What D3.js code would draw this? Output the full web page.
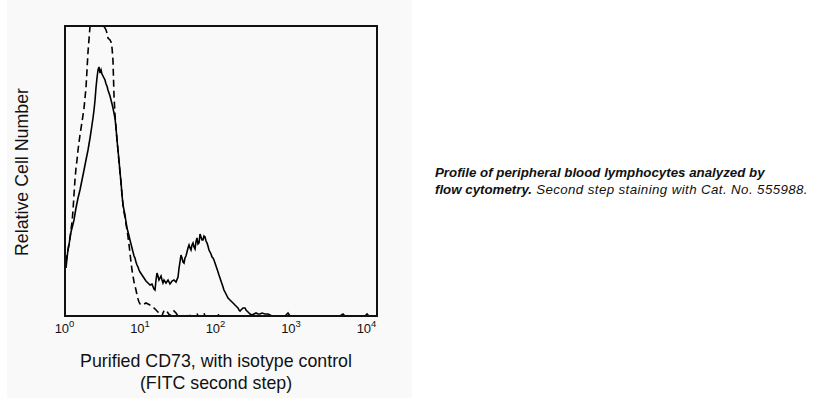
<!DOCTYPE html>
<html>
<head>
<meta charset="utf-8">
<script src="https://cdn.jsdelivr.net/npm/d3@7"></script>
<style>
  html, body { margin: 0; padding: 0; background: #ffffff; }
  svg { display: block; font-family: "Liberation Sans", Arial, sans-serif; }
</style>
</head>
<body>
<svg id="chart" width="831" height="398"></svg>
<script>
// ---- DATA ----
// x: log10 fluorescence (FITC), shared grid for both histograms
const logFluor = [0.013,0.026,0.038,0.051,0.064,0.077,0.090,0.103,0.115,0.128,0.141,0.154,0.167,0.192,0.218,0.244,0.269,0.295,0.321,0.346,0.359,0.372,0.385,0.397,0.410,0.423,0.436,0.449,0.462,0.474,0.487,0.500,0.513,0.526,0.538,0.551,0.564,0.577,0.590,0.603,0.615,0.628,0.641,0.654,0.667,0.679,0.692,0.705,0.718,0.731,0.744,0.756,0.769,0.782,0.795,0.808,0.821,0.833,0.846,0.859,0.872,0.885,0.897,0.910,0.923,0.936,0.949,0.962,0.987,1.013,1.038,1.064,1.090,1.115,1.141,1.154,1.167,1.179,1.192,1.205,1.218,1.231,1.244,1.256,1.269,1.295,1.321,1.346,1.372,1.397,1.423,1.449,1.462,1.474,1.487,1.500,1.513,1.526,1.538,1.551,1.564,1.577,1.590,1.603,1.615,1.628,1.641,1.654,1.667,1.679,1.692,1.705,1.718,1.731,1.744,1.756,1.769,1.782,1.795,1.808,1.821,1.833,1.846,1.859,1.872,1.885,1.897,1.910,1.923,1.936,1.949,1.962,1.974,1.987,2.000,2.013,2.026,2.038,2.051,2.064,2.077,2.090,2.103,2.115,2.128,2.141,2.154,2.167,2.179,2.192,2.205,2.218,2.231,2.244,2.256,2.269,2.282,2.295,2.308,2.321,2.333,2.346,2.359,2.372,2.397,2.423,2.449,2.474,2.500,2.526,2.564,2.603,2.628,2.654,2.821,2.859,2.885,3.526,3.564,3.590,3.846,3.872,3.897,4.000];

// Purified CD73 (solid line), relative cell number
const cd73Counts = [48,58,66,71,78,84,88,92,96,102,108,113,118,126,136,146,156,166,178,191,198,206,216,228,238,246,249,243,246,242,240,238,236,232,230,226,223,220,216,212,208,203,198,188,176,166,156,144,134,121,111,106,101,94,88,84,80,76,72,68,64,60,58,54,51,49,46,44,41,38,35,33,31,32,27,26,36,43,40,36,38,40,36,33,36,33,36,32,35,36,34,39,48,54,61,58,54,53,58,60,64,68,71,68,66,71,73,69,67,74,78,72,73,82,79,76,76,80,79,75,73,70,66,64,62,59,58,56,53,50,47,44,41,38,35,32,29,26,24,22,20,18,17,16,15,14,13,12,11,10,9,8,6,5,6,7,8,8,8,6,5,4,3,2,1,2,3,2,2,3,2,2,1,0,0,3,0,0,2,0,0,2,0,0];

// Isotype control (dashed line), relative cell number
const isotypeCounts = [54,60,66,72,78,86,94,106,121,136,148,156,166,181,194,208,228,264,290,302,306,308,310,311,311,308,302,290,289,289,289,289,288,286,283,278,277,276,274,268,256,221,201,188,176,166,154,144,133,121,111,104,99,92,86,79,71,63,54,46,40,34,30,26,21,17,14,12,11,12,13,12,11,10,8,7,6,5,4,2,1,0,0,3,5,6,3,0,3,5,3,0,0,0,0,0,0,0,0,0,0,0,3,0,0,0,0,0,0,0,3,0,0,0,0,0,0,3,0,0,0,0,0,0,0,0,0,0,0,0,0,0,3,0,0,0,0,0,0,0,0,0,0,0,0,0,0,0,0,0,0,0,0,0,0,0,0,0,0,0,0,0,0,0,0,0,0,0,0,0,0,0,0,0,0,0,0,0,0,0,0,0,0,0,0,0,0];

const tickExponents = [0, 1, 2, 3, 4];
const xTitleLines = ["Purified CD73, with isotype control", "(FITC second step)"];
const yTitle = "Relative Cell Number";
const captionBold1 = "Profile of peripheral blood lymphocytes analyzed by";
const captionBold2 = "flow cytometry.";
const captionItalic2 = " Second step staining with Cat. No. 555988.";

// ---- LAYOUT ----
const svg = d3.select("#chart");
const plot = { left: 65, right: 377, top: 26, bottom: 316 };

svg.append("rect").attr("x", 7).attr("y", 0).attr("width", 405).attr("height", 398)
  .attr("fill", "#f9f9f9");

const x = d3.scaleLinear().domain([0, 4]).range([plot.left, plot.right]);
const y = d3.scaleLinear().domain([0, 290]).range([plot.bottom, plot.top]);
// label positions of the decade labels
const xLabel = d3.scaleLinear().domain([0, 4]).range([64, 366]);

svg.append("defs").append("clipPath").attr("id", "clip")
  .append("rect").attr("x", plot.left).attr("y", plot.top)
  .attr("width", plot.right - plot.left).attr("height", plot.bottom - plot.top);

const line = d3.line().x(d => x(d[0])).y(d => y(d[1]));

const g = svg.append("g").attr("clip-path", "url(#clip)");
g.append("path")
  .datum(logFluor.map((v, i) => [v, isotypeCounts[i]]))
  .attr("d", line).attr("fill", "none").attr("stroke", "#000")
  .attr("stroke-width", 1.6).attr("stroke-dasharray", "7,4");
g.append("path")
  .datum(logFluor.map((v, i) => [v, cd73Counts[i]]))
  .attr("d", line).attr("fill", "none").attr("stroke", "#000")
  .attr("stroke-width", 1.6);

// frame
svg.append("rect").attr("x", plot.left).attr("y", plot.top)
  .attr("width", plot.right - plot.left).attr("height", plot.bottom - plot.top)
  .attr("fill", "none").attr("stroke", "#111").attr("stroke-width", 2);

// x tick labels (10^n)
const ax = svg.append("g").attr("transform", `translate(0,${plot.bottom})`)
  .call(d3.axisBottom(xLabel).tickValues(tickExponents).tickSize(0).tickFormat(() => ""));
ax.select(".domain").remove();
ax.selectAll(".tick").each(function(d) {
  const t = d3.select(this).append("text")
    .attr("y", 17).attr("fill", "#111").attr("text-anchor", "middle")
    .style("font-family", '"Liberation Sans", Arial, sans-serif');
  t.append("tspan").style("font-size", "13px").text("10");
  t.append("tspan").style("font-size", "9.5px").attr("dy", -6).text(d);
});

// x title
svg.selectAll("text.xtitle").data(xTitleLines).enter().append("text")
  .attr("class", "xtitle")
  .attr("x", 216).attr("y", (d, i) => 367 + i * 22)
  .attr("text-anchor", "middle").style("font-size", "17.8px").attr("fill", "#111")
  .text(d => d);

// y title
svg.append("text")
  .attr("transform", "translate(28,172) rotate(-90)")
  .attr("text-anchor", "middle").style("font-size", "17.8px").attr("fill", "#111")
  .text(yTitle);

// caption
const cap = svg.append("g").style("font-size", "13.3px").attr("fill", "#111");
cap.append("text").attr("x", 435).attr("y", 176.5)
  .attr("font-weight", "bold").attr("font-style", "italic").text(captionBold1);
const c2 = cap.append("text").attr("x", 435).attr("y", 193.5);
c2.append("tspan").attr("font-weight", "bold").attr("font-style", "italic").text(captionBold2);
c2.append("tspan").attr("font-style", "italic").style("letter-spacing", "0.4px").text(captionItalic2);
</script>
</body>
</html>
